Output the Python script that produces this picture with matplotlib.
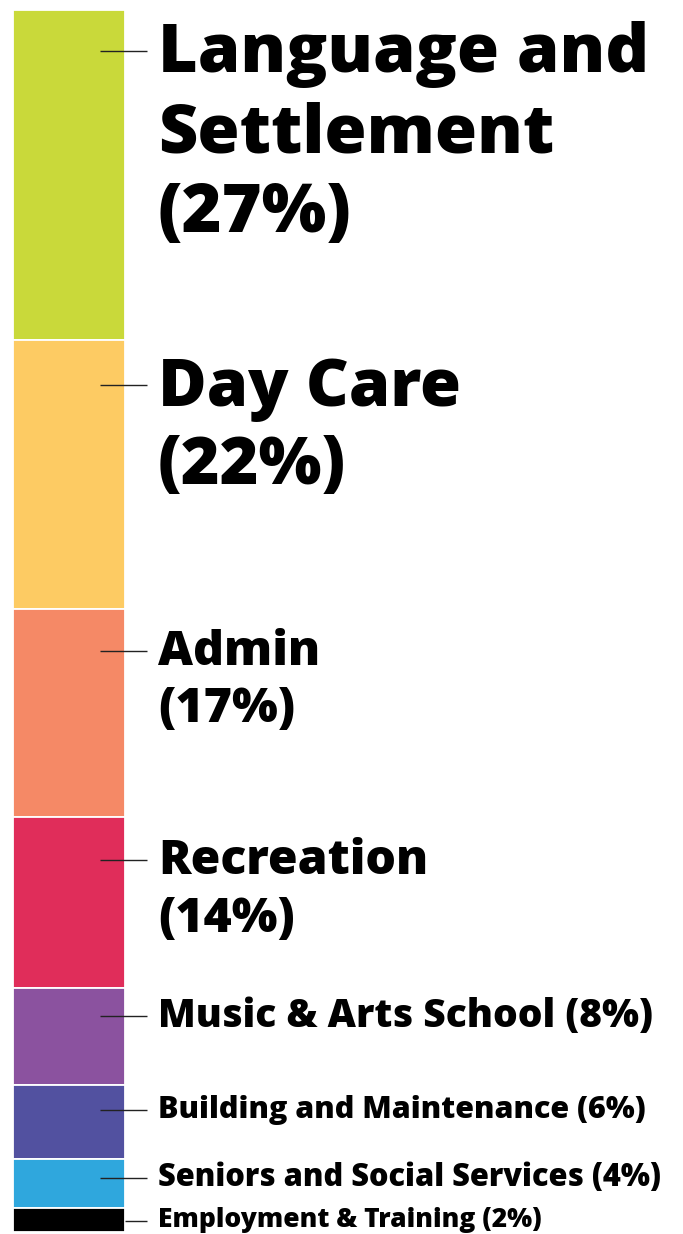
import matplotlib
matplotlib.use("Agg")
import matplotlib.pyplot as plt
from matplotlib import font_manager
import numpy as np

# ---- data ----
categories = ["Language and Settlement", "Day Care", "Admin", "Recreation",
              "Music & Arts School", "Building and Maintenance",
              "Seniors and Social Services", "Employment & Training"]
shares = [27, 22, 17, 14, 8, 6, 4, 2]
colors = ["#c9d93a", "#fdcb63", "#f58966", "#e02d5a",
          "#8b529f", "#5251a0", "#2fa7dd", "#000000"]

# ---- layout (styling) ----
W, H, DPI = 683, 1234, 100
bar_top_px, bar_bot_px = 10, 1232
bar_left, bar_width = 12.5, 112
leader_x0, leader_x1, text_x = 100, 147, 158
leader_px = [51, 385, 651, 860, 1016, 1110, 1178, 1221]
cap_px = [52, 50, 37, 37, 25, 20, 21, 18]
line_sp = [80, 78, 57, 58, 0, 0, 0, 0]
target_w = [490, 303, 162, 270, 495, 487, 503, 383]
label_lines = [["Language and", "Settlement", "(27%)"],
               ["Day Care", "(22%)"],
               ["Admin", "(17%)"],
               ["Recreation", "(14%)"],
               ["Music & Arts School (8%)"],
               ["Building and Maintenance (6%)"],
               ["Seniors and Social Services (4%)"],
               ["Employment & Training (2%)"]]

# pick heaviest installed weight of a preferred family
family, weight = "DejaVu Sans", "bold"
for fam in ["Open Sans", "Noto Sans", "Lato", "Roboto"]:
    ws = [f.weight for f in font_manager.fontManager.ttflist if f.name == fam]
    ws = [font_manager.weight_dict.get(w, w) if isinstance(w, str) else w for w in ws]
    if ws and max(ws) >= 700:
        family, weight = fam, max(ws)
        break

fig = plt.figure(figsize=(W / DPI, H / DPI), dpi=DPI)
ax = fig.add_axes([0, (H - bar_bot_px) / H, 1, (bar_bot_px - bar_top_px) / H])
ax.set_xlim(0, W)
ax.set_ylim(100, 0)
ax.axis("off")

bottoms = np.concatenate([[0], np.cumsum(shares)[:-1]])
ax.bar([bar_left] * len(shares), shares, width=bar_width, bottom=bottoms,
       align="edge", color=colors, edgecolor="white", linewidth=1.3)

scale = 100.0 / (bar_bot_px - bar_top_px)
CAP = 0.714
texts = []
for i, lines in enumerate(label_lines):
    y_data = (leader_px[i] - bar_top_px) * scale
    x0 = leader_x0 if i < len(shares) - 1 else bar_left + bar_width
    ax.plot([x0, leader_x1], [y_data, y_data], color="#222222", lw=1.0,
            solid_capstyle="butt")
    fs = cap_px[i] / CAP * 72 / DPI
    group = []
    for j, ln in enumerate(lines):
        t = ax.annotate(ln, xy=(text_x, y_data), xycoords="data",
                        xytext=(0, 0), textcoords="offset pixels",
                        ha="left", va="baseline", fontsize=fs,
                        fontfamily=family, fontweight=weight, color="#000000")
        group.append(t)
    texts.append(group)

# fit font size to the label widths seen in the reference
fig.canvas.draw()
r = fig.canvas.get_renderer()
for i, group in enumerate(texts):
    w0 = group[0].get_window_extent(r).width
    f = target_w[i] / w0
    fs = group[0].get_fontsize() * f
    cap = fs * DPI / 72 * CAP
    for j, t in enumerate(group):
        t.set_fontsize(fs)
        t.xyann = (0, -(0.5 * cap - 3) - j * line_sp[i])

fig.savefig("out.png", dpi=DPI, facecolor="white")
